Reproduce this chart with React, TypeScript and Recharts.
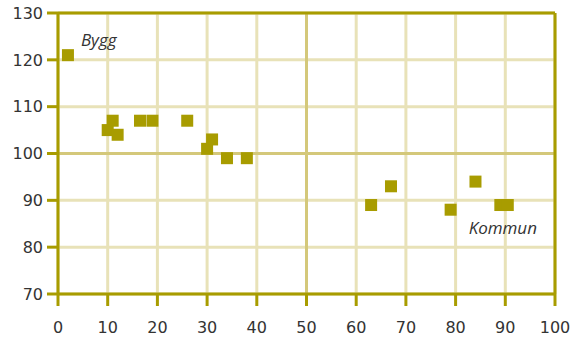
import React from "react";
import {
  ScatterChart,
  Scatter,
  XAxis,
  YAxis,
  CartesianGrid,
  ReferenceLine,
  ReferenceDot,
} from "recharts";

const xValues = [2, 10, 11, 12, 16.5, 19, 26, 30, 31, 34, 38, 63, 67, 79, 84, 89, 90.5];
const yValues = [121, 105, 107, 104, 107, 107, 107, 101, 103, 99, 99, 89, 93, 88, 94, 89, 89];
const xTicks = [0, 10, 20, 30, 40, 50, 60, 70, 80, 90, 100];
const yTicks = [70, 80, 90, 100, 110, 120, 130];
const labels = [
  { text: "Bygg", x: 8.2, y: 124.3 },
  { text: "Kommun", x: 89.5, y: 84 },
];

const data = xValues.map((x, i) => ({ x, y: yValues[i] }));

const OLIVE = "#a89c00";
const LIGHT = "#e8e2b8";
const MID = "#d4c87a";
const FONT = "'Open Sans', sans-serif";
const TICK_FONT = "'DejaVu Sans', sans-serif";

const SquareShape = (props: any) => {
  const { cx, cy } = props;
  if (cx == null || cy == null) return null;
  return <rect x={cx - 6} y={cy - 6} width={12} height={12} fill={OLIVE} />;
};

export default function App() {
  return (
    <div style={{ position: "absolute", left: 0, top: 0 }}>
      <ScatterChart
        width={574}
        height={340}
        margin={{ top: 13, right: 19, left: 0, bottom: 0 }}
      >
        <CartesianGrid stroke={LIGHT} strokeWidth={3} />
        <ReferenceLine x={50} stroke={MID} strokeWidth={3} />
        <ReferenceLine y={100} stroke={MID} strokeWidth={3} />
        <ReferenceLine y={130} stroke={OLIVE} strokeWidth={3} />
        <ReferenceLine x={100} stroke={OLIVE} strokeWidth={3} />
        <XAxis
          type="number"
          dataKey="x"
          domain={[0, 100]}
          ticks={xTicks}
          interval={0}
          height={46}
          axisLine={{ stroke: OLIVE, strokeWidth: 3 }}
          tickLine={{ stroke: OLIVE, strokeWidth: 3 }}
          tickSize={12}
          tickMargin={16}
          tick={{ fill: "#333", fontSize: 16, fontFamily: TICK_FONT }}
        />
        <YAxis
          type="number"
          dataKey="y"
          domain={[70, 130]}
          ticks={yTicks}
          interval={0}
          width={58}
          axisLine={{ stroke: OLIVE, strokeWidth: 3 }}
          tickLine={{ stroke: OLIVE, strokeWidth: 3 }}
          tickSize={11}
          tickMargin={4}
          tick={{ fill: "#333", fontSize: 16, fontFamily: TICK_FONT }}
        />
        <Scatter
          data={data}
          fill={OLIVE}
          shape={SquareShape}
          isAnimationActive={false}
        />
        {labels.map((l) => (
          <ReferenceDot
            key={l.text}
            x={l.x}
            y={l.y}
            r={0}
            stroke="none"
            fill="none"
            label={{
              value: l.text,
              position: "center",
              fill: "#333",
              fontSize: 17,
              fontStyle: "italic",
              fontFamily: FONT,
            }}
          />
        ))}
      </ScatterChart>
    </div>
  );
}
